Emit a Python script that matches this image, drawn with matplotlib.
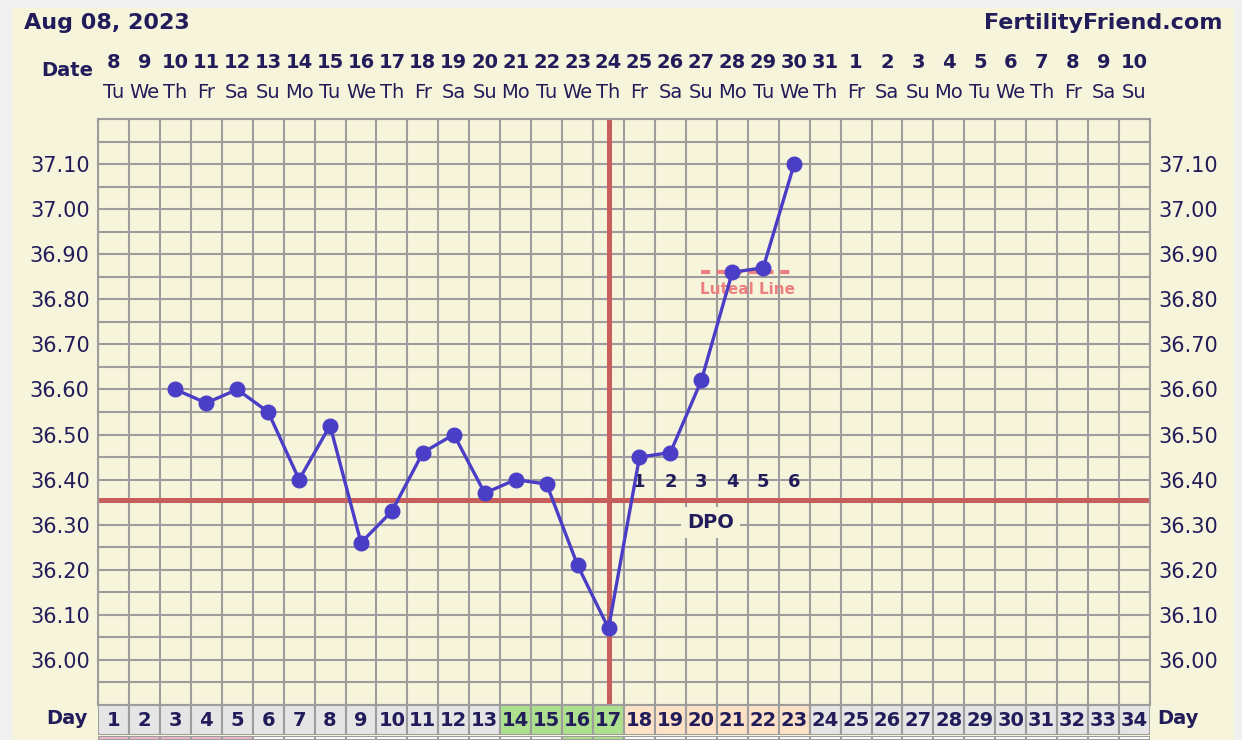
import numpy as np
import matplotlib
matplotlib.use('Agg')
import matplotlib.pyplot as plt
from matplotlib.patches import Rectangle
from matplotlib.transforms import blended_transform_factory

W, H = 1242, 740

# chart data
cycle_days = list(range(1, 35))
dates = list(range(8, 32)) + list(range(1, 11))
weekdays = (['Tu', 'We', 'Th', 'Fr', 'Sa', 'Su', 'Mo'] * 5)[:34]
temp_days = list(range(3, 24))
temps = [36.60, 36.57, 36.60, 36.55, 36.40, 36.52, 36.26, 36.33, 36.46, 36.50,
         36.37, 36.40, 36.39, 36.21, 36.07, 36.45, 36.46, 36.62, 36.86, 36.87, 37.10]
coverline = 36.355
ovulation_day = 17
dpo_days = [18, 19, 20, 21, 22, 23]
dpo_labels = ['1', '2', '3', '4', '5', '6']
luteal_level = 36.86
luteal_span = [20, 23]
fertile_days = [14, 15, 16, 17]
post_ov_days = [18, 19, 20, 21, 22, 23]
strip_pink_days = [1, 2, 3, 4, 5]
strip_green_days = [16, 17]
y_ticks = [36.00, 36.10, 36.20, 36.30, 36.40, 36.50, 36.60, 36.70, 36.80, 36.90, 37.00, 37.10]

# colours
cream = '#f7f4dc'
navy = '#221d5a'
grid_c = '#9d9d9d'
line_c = '#4a3ec6'
red_c = '#c65e5c'
pink_c = '#ec8080'


def fx(px):
    return px / W


def fy(py):
    return 1 - py / H


fig = plt.figure(figsize=(W / 100, H / 100), dpi=100, facecolor='#f0f0f0')
fig.patches.append(Rectangle((fx(12), 0), fx(1234) - fx(12), fy(8), transform=fig.transFigure,
                             facecolor=cream, edgecolor='none', zorder=-10))

## Main chart
ax = fig.add_axes([fx(98), fy(705), fx(1150) - fx(98), (705 - 119) / H])
ax.set_facecolor(cream)
ax.set_xlim(0.5, 34.5)
ax.set_ylim(35.90, 37.20)
for x in np.arange(0.5, 35, 1):
    ax.axvline(x, color=grid_c, lw=1.5, zorder=1)
for y in np.arange(35.90, 37.21, 0.05):
    ax.axhline(y, color=grid_c, lw=1.5, zorder=1)
for s in ax.spines.values():
    s.set_color(grid_c)
    s.set_linewidth(1.5)

ax.set_xticks([])
ax.set_yticks(y_ticks)
ax.set_yticklabels(['%.2f' % v for v in y_ticks])
ax.tick_params(axis='y', length=0, labelsize=15, labelcolor=navy, pad=6,
               labelleft=True, labelright=True)

# coverline and ovulation line
ax.axhline(coverline, color=red_c, lw=3.6, zorder=2)
ax.axvline(ovulation_day, color=red_c, lw=3.6, zorder=2)

# luteal line
ax.plot(luteal_span, [luteal_level, luteal_level], color=pink_c, lw=3, ls=(0, (2.2, 1.6)), zorder=3)
ax.text(np.mean(luteal_span), luteal_level - 0.038, 'Luteal Line', color=pink_c, fontsize=11,
        fontweight='bold', ha='center', va='center', zorder=3)

# temperatures
ax.plot(temp_days, temps, color=line_c, lw=2.4, marker='o', ms=10.5, zorder=5)

# DPO
for d, lab in zip(dpo_days, dpo_labels):
    ax.text(d, coverline + 0.04, lab, color=navy, fontsize=13, fontweight='bold',
            ha='center', va='center', zorder=4)
ax.text(20.3, coverline - 0.05, 'DPO', color=navy, fontsize=14, fontweight='bold',
        ha='center', va='center', zorder=4,
        bbox=dict(boxstyle='square,pad=0.3', facecolor=cream, edgecolor='none'))

## Header
tr = blended_transform_factory(ax.transData, fig.transFigure)
for d, dt, wd in zip(cycle_days, dates, weekdays):
    ax.text(d, fy(63), str(dt), transform=tr, color=navy, fontsize=14, fontweight='bold',
            ha='center', va='center')
    ax.text(d, fy(93), wd, transform=tr, color=navy, fontsize=14, ha='center', va='center')
fig.text(fx(24), fy(23), 'Aug 08, 2023', color=navy, fontsize=16, fontweight='bold',
         ha='left', va='center')
fig.text(fx(1222), fy(23), 'FertilityFriend.com', color=navy, fontsize=16, fontweight='bold',
         ha='right', va='center')
fig.text(fx(67), fy(70), 'Date', color=navy, fontsize=14, fontweight='bold', ha='center', va='center')

## Day row
axd = fig.add_axes([fx(98), fy(735), fx(1150) - fx(98), 30 / H])
axd.set_xlim(0.5, 34.5)
axd.set_ylim(0, 1)
axd.axis('off')
for d in cycle_days:
    if d in fertile_days:
        c = '#ade08e'
    elif d in post_ov_days:
        c = '#fde2c8'
    else:
        c = '#e5e5e5'
    axd.bar(d, 1, width=1, bottom=0, color=c, edgecolor=grid_c, lw=1.5)
    axd.text(d, 0.5, str(d), color=navy, fontsize=14, fontweight='bold', ha='center', va='center')
fig.text(fx(67), fy(719), 'Day', color=navy, fontsize=14, fontweight='bold', ha='center', va='center')
fig.text(fx(1157), fy(719), 'Day', color=navy, fontsize=14, fontweight='bold', ha='left', va='center')

## Strip under day row
axs = fig.add_axes([fx(98), 0, fx(1150) - fx(98), 4 / H])
axs.set_xlim(0.5, 34.5)
axs.set_ylim(0, 1)
axs.axis('off')
for d in cycle_days:
    if d in strip_pink_days:
        c = '#efb6c6'
    elif d in strip_green_days:
        c = '#ade08e'
    else:
        c = 'white'
    axs.bar(d, 1, width=1, color=c, edgecolor=grid_c, lw=1.5)

fig.savefig('out.png', dpi=100, facecolor=fig.get_facecolor())
